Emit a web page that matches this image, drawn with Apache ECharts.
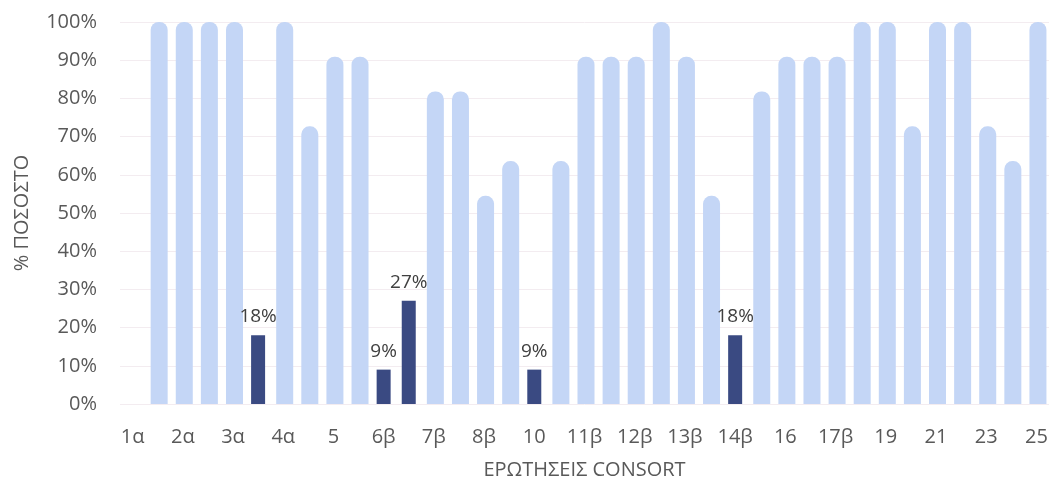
<!DOCTYPE html>
<html>
<head>
<meta charset="utf-8">
<script src="https://cdn.jsdelivr.net/npm/echarts@6/dist/echarts.min.js"></script>
<style>html,body{margin:0;padding:0;background:#fff}#c{width:1057px;height:485px}</style>
</head>
<body>
<div id="c"></div>
<script>
const categories = ['1α','1β','2α','2β','3α','3β','4α','4β','5','6α','6β','7α','7β','8α','8β','9','10','11α','11β','12α','12β','13α','13β','14α','14β','15','16','17α','17β','18','19','20','21','22','23','24','25'];
const lightValues = [0,100,100,100,100,0,100,72.7,90.9,90.9,0,0,81.8,81.8,54.5,63.6,0,63.6,90.9,90.9,90.9,100,90.9,54.5,0,81.8,90.9,90.9,90.9,100,100,72.7,100,100,72.7,63.6,100];
const darkValues = [null,null,null,null,null,18,null,null,null,null,9,27,null,null,null,null,9,null,null,null,null,null,null,null,18,null,null,null,null,null,null,null,null,null,null,null,null];
const yTicks = [0,10,20,30,40,50,60,70,80,90,100];
const xAxisName = 'ΕΡΩΤΗΣΕΙΣ CONSORT';
const yAxisName = '% ΠΟΣΟΣΤΟ';

const font = '"Open Sans", "Noto Sans", sans-serif';
const chart = echarts.init(document.getElementById('c'), null, {renderer: 'canvas'});
chart.setOption({
  animation: false,
  textStyle: {fontFamily: font},
  grid: {left: 120, right: 8, top: 22, bottom: 79, containLabel: false},
  xAxis: {
    type: 'category',
    data: categories,
    name: xAxisName,
    nameLocation: 'middle',
    nameGap: 56,
    nameTextStyle: {fontFamily: font, fontSize: 20, color: '#595959'},
    axisLine: {show: false},
    axisTick: {show: false},
    axisLabel: {interval: 1, fontFamily: font, fontSize: 20, color: '#595959', margin: 23}
  },
  yAxis: {
    type: 'value',
    min: yTicks[0],
    max: yTicks[yTicks.length - 1],
    interval: 10,
    name: yAxisName,
    nameLocation: 'middle',
    nameGap: 88,
    nameTextStyle: {fontFamily: font, fontSize: 20, color: '#595959'},
    axisLine: {show: false},
    axisTick: {show: false},
    splitLine: {lineStyle: {color: '#f3ecf0', width: 1}},
    axisLabel: {formatter: '{value}%', fontFamily: font, fontSize: 20, color: '#595959', margin: 23}
  },
  series: [
    {
      type: 'bar',
      data: lightValues,
      barWidth: 17,
      itemStyle: {color: '#c4d6f6', borderRadius: [8, 8, 0, 0]}
    },
    {
      type: 'bar',
      data: darkValues,
      barWidth: 14,
      barGap: '-100%',
      itemStyle: {color: '#3a4a82'},
      label: {show: true, position: 'top', distance: 9, formatter: '{c}%', fontFamily: font, fontSize: 19, color: '#404040'}
    }
  ]
});
</script>
</body>
</html>
